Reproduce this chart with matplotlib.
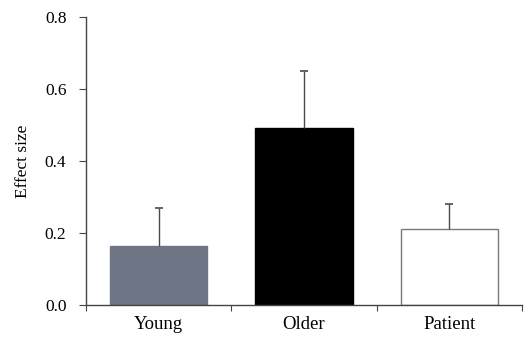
import matplotlib
matplotlib.use("Agg")
import matplotlib.pyplot as plt
import numpy as np

categories = ["Young", "Older", "Patient"]
values = [0.165, 0.492, 0.210]
errors = [0.104, 0.159, 0.070]
colors = ["#6e7685", "#000000", "#ffffff"]
edgecolors = ["#6e7685", "#000000", "#7a7a7a"]
yticks = [0.0, 0.2, 0.4, 0.6, 0.8]

plt.rcParams['font.family'] = ['Liberation Serif', 'DejaVu Serif']

fig = plt.figure(figsize=(5.30, 3.41), dpi=100)
ax = fig.add_axes([0.162, 0.1056, 0.823, 0.8444])

x = np.arange(len(categories))
ax.bar(x, values, width=0.67, color=colors, edgecolor=edgecolors, linewidth=1.0, zorder=2)
eb = ax.errorbar(x, values, yerr=[np.zeros(len(errors)), errors], fmt='none',
                 ecolor='#4a4a4a', elinewidth=1.0, capsize=3, capthick=1.2, zorder=3)
eb[1][0].set_visible(False)

ax.set_xlim(-0.5, 2.5)
ax.set_ylim(0, 0.8)
ax.set_yticks(yticks)
ax.set_yticklabels([f"{t:.1f}" for t in yticks], fontsize=12.5)
ax.set_xticks([-0.5, 0.5, 1.5, 2.5])
ax.set_xticklabels([])
ax.set_xticks(x, minor=True)
ax.set_xticklabels(categories, minor=True, fontsize=13.5)
ax.tick_params(axis='x', which='minor', length=0, pad=8)
ax.tick_params(axis='x', which='major', direction='out', length=4, color='#444444')
ax.tick_params(axis='y', direction='out', length=5, color='#444444', pad=9)

for s in ['top', 'right']:
    ax.spines[s].set_visible(False)
for s in ['left', 'bottom']:
    ax.spines[s].set_color('#444444')
    ax.spines[s].set_linewidth(1.0)

ax.set_ylabel("Effect size", fontsize=12.5, labelpad=10)

fig.savefig("out.png", dpi=100)
